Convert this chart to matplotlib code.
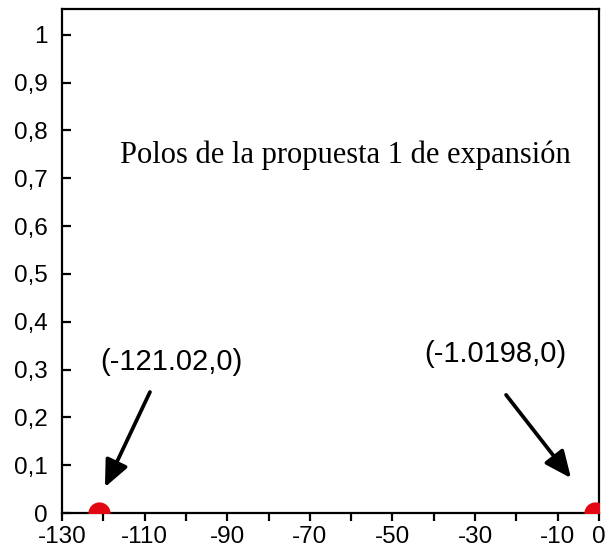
import matplotlib
matplotlib.use("Agg")
import matplotlib.pyplot as plt

# Data
pole_re = [-121.02, -1.0198]
pole_im = [0.0, 0.0]
pole_labels = ["(-121.02,0)", "(-1.0198,0)"]
x_ticks = list(range(-130, 1, 10))
x_tick_labels = ["-130", "", "-110", "", "-90", "", "-70", "", "-50", "", "-30", "", "-10", "0"]
y_ticks = [0, 0.1, 0.2, 0.3, 0.4, 0.5, 0.6, 0.7, 0.8, 0.9, 1.0]
y_tick_labels = ["0", "0,1", "0,2", "0,3", "0,4", "0,5", "0,6", "0,7", "0,8", "0,9", "1"]
title_text = "Polos de la propuesta 1 de expansión"

plt.rcParams['font.family'] = ['Liberation Sans', 'DejaVu Sans']

fig = plt.figure(figsize=(6.1, 5.54), dpi=100)
ax = fig.add_axes([0.1016, 0.074, 0.8804, 0.9098])

ax.plot(pole_re, pole_im, 'o', color='#E30613', markersize=16, markeredgewidth=0, zorder=3)

ax.set_xlim(-130, 0)
ax.set_ylim(0, 1.054)
ax.set_xticks(x_ticks)
ax.set_xticklabels(x_tick_labels)
ax.set_yticks(y_ticks)
ax.set_yticklabels(y_tick_labels)

for s in ax.spines.values():
    s.set_linewidth(1.6)
    s.set_color('black')

ax.tick_params(axis='x', direction='out', length=5.5, width=1.6, pad=4, labelsize=17.5)
ax.tick_params(axis='y', direction='in', length=6.5, width=1.6, pad=10, labelsize=17.5)

# Title text inside plot
ax.text(-61.5, 0.749, title_text, family=['Liberation Serif', 'DejaVu Serif'],
        fontsize=22, ha='center', va='center')

# Annotations
text_pos = [(-103.6, 0.316), (-25.2, 0.333)]
arrow_tail = [(-108.7, 0.253), (-22.5, 0.247)]
arrow_tip = [(-119.6, 0.054), (-6.78, 0.073)]
for lbl, tp, tail, tip in zip(pole_labels, text_pos, arrow_tail, arrow_tip):
    ax.text(tp[0], tp[1], lbl, fontsize=21, ha='center', va='center')
    ax.annotate('', xy=tip, xytext=tail,
                arrowprops=dict(arrowstyle='-|>,head_length=0.9,head_width=0.4',
                                lw=2.7, color='black', mutation_scale=18,
                                shrinkA=0, shrinkB=0))

fig.savefig("out.png", dpi=100)
